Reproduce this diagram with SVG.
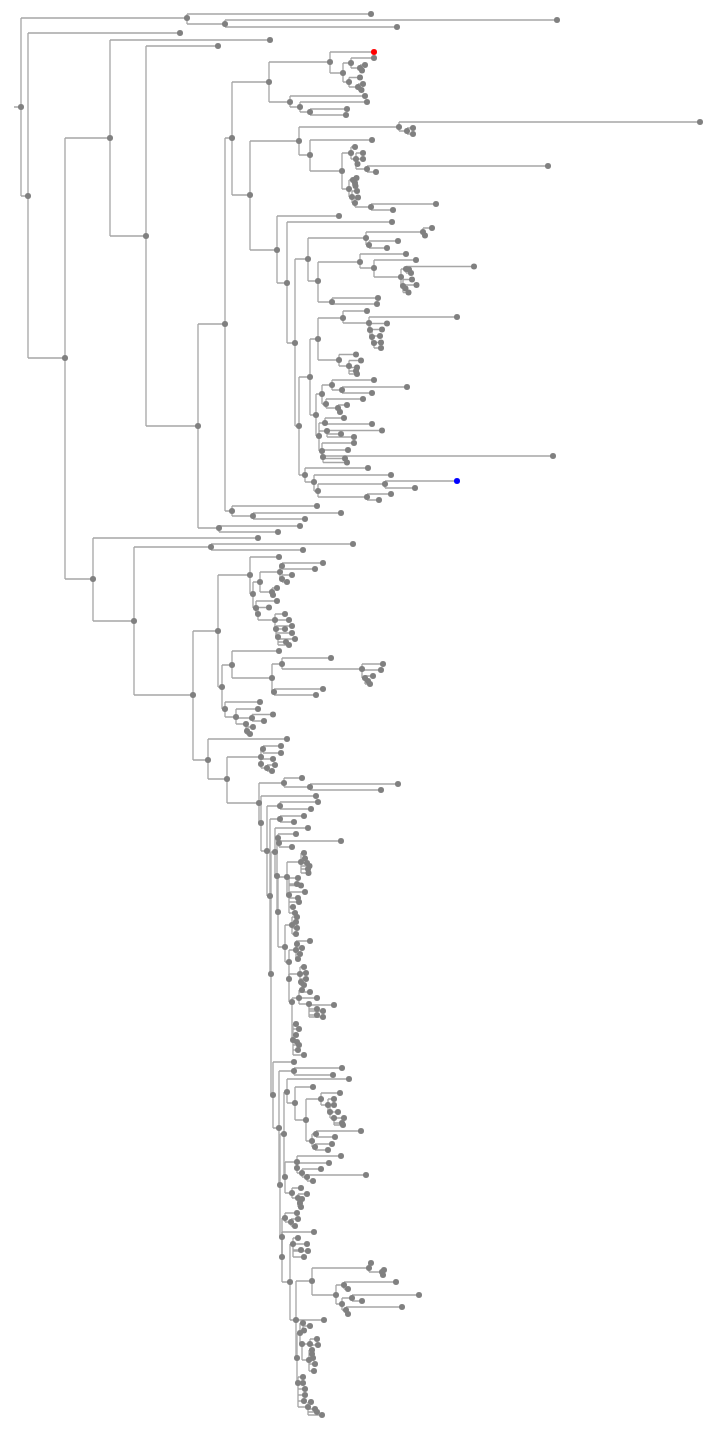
<svg xmlns="http://www.w3.org/2000/svg" width="716" height="1430" viewBox="0 0 716 1430">
<style>
.e path{fill:none;stroke:#a6a6a6;stroke-width:1.3}
circle{r:3px;fill:#808080}
.red circle{fill:#ff0000}
.blue circle{fill:#0000ff}
</style>
<rect width="716" height="1430" fill="#ffffff"/>
<g id="connectors" class="e">
<path d="M14 107H21M21 18V196M21 18H187M21 196H28"/>
<path d="M187 14V24M187 14H371M187 24H225"/>
<path d="M225 20V27M225 20H557M225 27H397"/>
<path d="M28 33V358M28 33H180M28 358H65"/>
<path d="M65 138V579M65 138H110M65 579H93"/>
<path d="M110 40V236M110 40H270M110 236H146"/>
<path d="M146 46V426M146 46H218M146 426H198"/>
<path d="M198 324V528M198 324H225M198 528H219"/>
<path d="M225 138V511M225 138H232M225 511H232"/>
<path d="M232 506V516M232 506H317M232 516H253"/>
<path d="M253 513V519M253 513H341M253 519H305"/>
<path d="M219 526V532M219 526H300M219 532H278"/>
<path d="M93 538V621M93 538H258M93 621H134"/>
<path d="M134 547V695M134 547H211M134 695H193"/>
<path d="M211 544V550M211 544H353M211 550H303"/>
<path d="M232 82V195M232 82H269M232 195H250"/>
<path d="M269 62V102M269 62H330M269 102H290"/>
<path d="M330 52V73M330 52H374M330 73H343"/>
<path d="M343 63V82M343 63H351M343 82H349"/>
<path d="M351 58V68M351 58H374M351 68H360"/>
<path d="M360 65V70.5M360 65H365M360 70.5H362"/>
<path d="M349 77.5V87M349 77.5H360M349 87H358"/>
<path d="M358 84V90M358 84H363M358 90H361.5"/>
<path d="M290 96V107M290 96H365M290 107H300"/>
<path d="M300 102V112M300 102H367M300 112H310"/>
<path d="M310 109V115M310 109H347M310 115H346"/>
<path d="M250 141V250M250 141H299M250 250H277"/>
<path d="M299 127V155M299 127H399M299 155H310"/>
<path d="M399 122V131M399 122H700M399 131H407"/>
<path d="M407 128V134M407 128H413M407 134H413"/>
<path d="M310 140V171M310 140H372M310 171H342"/>
<path d="M342 153V189M342 153H351M342 189H349"/>
<path d="M351 147V159M351 147H355M351 159H356"/>
<path d="M356 153V169M356 153H363M356 159H363M356 164H357.5M356 169H367"/>
<path d="M367 166V172M367 166H548M367 172H376"/>
<path d="M349 180V197M349 180H353M349 197H352"/>
<path d="M353 178V186M353 178H356.5M353 183H355M353 186H355.5"/>
<path d="M352 191V203M352 191H357M352 203H355"/>
<path d="M355 197.5V207M355 197.5H358M355 207H371"/>
<path d="M371 204V210M371 204H436M371 210H393"/>
<path d="M277 216V283M277 216H339M277 283H287"/>
<path d="M287 222V343M287 222H392M287 343H295"/>
<path d="M295 259V426M295 259H308M295 426H299"/>
<path d="M308 238V281M308 238H366M308 281H318"/>
<path d="M366 232V245M366 232H423M366 245H369"/>
<path d="M423 228V235.5M423 228H432M423 235.5H425"/>
<path d="M369 241V248M369 241H398M369 248H387"/>
<path d="M318 262V302M318 262H360M318 302H332"/>
<path d="M360 254V268M360 254H406M360 268H374"/>
<path d="M374 260V277M374 260H416M374 277H401"/>
<path d="M401 269V286M401 269H406M401 286H403"/>
<path d="M406 266.5V273M406 266.5H474M406 269.5H409M406 273H411"/>
<path d="M403 279.5V292.5M403 279.5H412M403 285H416.5M403 288.5H405.5M403 292.5H408.5"/>
<path d="M332 298V304M332 298H378M332 304H377"/>
<path d="M299 377V475M299 377H310M299 475H305"/>
<path d="M310 339V415M310 339H318M310 415H316"/>
<path d="M318 318V360M318 318H343M318 360H339"/>
<path d="M343 311V323M343 311H367M343 323H369"/>
<path d="M369 317V330M369 317H457M369 330H370"/>
<path d="M370 323.5V337M370 323.5H387M370 337H372"/>
<path d="M372 329.5V343M372 329.5H382M372 336H380M372 343H374"/>
<path d="M374 342.5V348M374 342.5H381M374 348H381"/>
<path d="M339 354.5V366M339 354.5H356M339 366H349"/>
<path d="M349 360.5V374M349 360.5H361M349 367.5H357M349 371H356M349 374H357"/>
<path d="M316 394V436M316 394H322M316 436H319"/>
<path d="M322 385V404M322 385H332M322 404H326"/>
<path d="M332 380V390M332 380H374M332 390H342"/>
<path d="M342 387V393M342 387H407M342 393H372"/>
<path d="M326 399V408M326 399H363M326 408H338"/>
<path d="M338 405V412M338 405H347M338 412H340"/>
<path d="M319 423V451M319 423H325M319 431H327M319 451H322"/>
<path d="M325 418V424M325 418H344M325 424H372"/>
<path d="M327 430.5V437M327 430.5H382M327 434H341M327 437H354"/>
<path d="M322 443V457M322 443H354M322 450H348M322 457H323"/>
<path d="M323 456V462.5M323 456H553M323 458.5H345M323 462.5H347"/>
<path d="M305 468V482M305 468H368M305 482H314"/>
<path d="M314 475V491M314 475H391M314 491H318"/>
<path d="M318 484V497M318 484H385M318 497H367"/>
<path d="M385 481V488M385 481H457M385 488H415"/>
<path d="M367 494V500M367 494H391M367 500H379"/>
<path d="M193 631V760M193 631H218M193 760H208"/>
<path d="M218 575V687M218 575H250M218 687H222"/>
<path d="M250 557V594M250 557H279M250 594H253"/>
<path d="M253 582V608M253 582H260M253 608H256"/>
<path d="M260 572V592M260 572H280M260 592H272"/>
<path d="M280 566V579M280 566H282M280 579H282"/>
<path d="M282 563V569M282 563H323M282 569H315"/>
<path d="M282 575V582M282 575H292M282 582H287"/>
<path d="M272 588V595M272 588H277M272 595H273"/>
<path d="M256 601V614M256 601H277M256 614H258"/>
<path d="M258 607.5V620M258 607.5H269M258 620H275"/>
<path d="M275 614V629M275 614H285M275 620H289M275 629H276"/>
<path d="M276 626V637M276 626H292M276 629H285M276 633H292M276 637H278"/>
<path d="M278 637V645M278 639H295M278 642H286M278 645H289"/>
<path d="M222 665V709M222 665H232M222 709H225"/>
<path d="M232 651V678M232 651H279M232 678H272"/>
<path d="M272 664V692M272 664H282M272 692H274"/>
<path d="M282 658V669M282 658H331M282 669H362"/>
<path d="M362 664V678M362 664H383M362 670H381M362 678H365"/>
<path d="M365 676V684M365 676H373M365 681H368M365 684H370"/>
<path d="M274 689V695M274 689H323M274 695H316"/>
<path d="M225 702V717M225 702H260M225 717H236"/>
<path d="M236 709V724M236 709H258M236 718H252M236 724H246"/>
<path d="M252 714.5V721M252 714.5H273M252 721H264"/>
<path d="M246 724V734M246 727H253M246 731H247M246 734H250"/>
<path d="M208 739V779M208 739H287M208 779H227"/>
<path d="M227 757V803M227 757H261M227 803H259"/>
<path d="M261 749V768M261 749H263M261 759H273M261 768H267"/>
<path d="M263 746V753M263 746H281M263 753H281"/>
<path d="M267 765V771M267 765H275M267 771H272"/>
<path d="M259 783V823M259 783H284M259 823H261"/>
<path d="M284 778V787M284 778H302M284 787H310"/>
<path d="M310 784V790M310 784H398M310 790H381"/>
<path d="M261 796V851M261 796H316M261 851H267"/>
<path d="M267 806V896M267 806H280M267 896H270"/>
<path d="M280 802V809M280 802H318M280 809H311"/>
<path d="M270 819V974M270 819H280M270 974H271"/>
<path d="M280 816V822M280 816H304M280 822H294"/>
<path d="M271 852V1095M271 852H275M271 1095H273"/>
<path d="M275 828V876M275 828H308M275 876H277"/>
<path d="M277 838V912M277 838H278M277 912H278"/>
<path d="M278 834V843M278 834H296M278 843H279"/>
<path d="M279 841V847M279 841H341M279 847H292"/>
<path d="M278 877V947M278 877H287M278 947H285"/>
<path d="M287 862V895M287 862H301M287 895H289"/>
<path d="M301 853V873M301 853H304M301 858.5H305M301 863H307M301 866H309.5M301 869H308M301 873H308.5"/>
<path d="M289 878V913M289 878H298M289 884H297M289 885.5H301M289 892H305M289 898H298M289 902H299M289 907H293M289 913H295"/>
<path d="M285 925V962M285 925H292M285 962H289"/>
<path d="M292 917V934M292 917H297M292 922H296M292 928H297M292 934H296"/>
<path d="M289 950V979M289 950H296"/>
<path d="M296 941V959M296 941H310M296 944H297M296 948H302M296 954H300M296 959H298"/>
<path d="M289 974V1002M289 974H300M289 1002H292"/>
<path d="M300 967V985M300 967H304M300 973H306M300 979H306M300 982H301M300 985H304"/>
<path d="M292 998V1040M292 998H299M292 1040H293"/>
<path d="M299 990V1004M299 990H302M299 992H310M299 998H317M299 1004H309"/>
<path d="M309 1004V1017M309 1005H334M309 1009H317M309 1011H323M309 1015H317M309 1017H323"/>
<path d="M293 1024V1055M293 1024H296M293 1029H299M293 1035H296M293 1042H297M293 1045H299M293 1050H298M293 1055H304"/>
<path d="M273 1062V1128M273 1062H294M273 1128H279"/>
<path d="M279 1071V1185M279 1071H294M279 1185H280"/>
<path d="M294 1068V1075M294 1068H342M294 1075H333"/>
<path d="M280 1134V1237M280 1134H284M280 1237H282"/>
<path d="M284 1092V1177M284 1092H287M284 1177H285"/>
<path d="M287 1079V1103M287 1079H349M287 1103H295"/>
<path d="M295 1087V1120M295 1087H313M295 1120H306"/>
<path d="M306 1099V1141M306 1099H321M306 1141H312"/>
<path d="M321 1093V1105M321 1093H340M321 1105H328"/>
<path d="M328 1099V1112M328 1099H334M328 1112H330"/>
<path d="M330 1105V1118M330 1105H334M330 1112H338M330 1118H334"/>
<path d="M334 1118V1125M334 1118H344M334 1123H342M334 1125H343"/>
<path d="M312 1134V1147M312 1134H316M312 1147H315"/>
<path d="M316 1131V1137M316 1131H361M316 1137H335"/>
<path d="M315 1144V1150M315 1144H332M315 1150H328"/>
<path d="M285 1162V1193M285 1162H297M285 1193H292"/>
<path d="M297 1156V1168M297 1156H341"/>
<path d="M297 1163V1173M297 1163H329M297 1173H302"/>
<path d="M302 1169V1177M302 1169H321M302 1177H307"/>
<path d="M307 1175V1181M307 1175H366M307 1181H313"/>
<path d="M292 1188V1198M292 1188H301M292 1198H298"/>
<path d="M298 1194V1207M298 1194H307M298 1199H302M298 1203H300M298 1207H301"/>
<path d="M282 1218V1257M282 1218H285"/>
<path d="M285 1213V1222M285 1213H297M285 1222H291"/>
<path d="M291 1219V1226M291 1219H298M291 1226H295"/>
<path d="M282 1232V1282M282 1232H314M282 1282H290"/>
<path d="M290 1244V1320M290 1244H293M290 1320H296"/>
<path d="M293 1238V1257M293 1238H298M293 1244H307M293 1250H301M293 1251H308M293 1257H304"/>
<path d="M296 1281V1358M296 1281H312M296 1320H324M296 1358H297"/>
<path d="M312 1268V1295M312 1268H369M312 1295H336"/>
<path d="M369 1263V1272M369 1263H371M369 1272H382"/>
<path d="M382 1270V1275M382 1270H384M382 1275H383"/>
<path d="M336 1285V1304M336 1285H344M336 1304H342"/>
<path d="M344 1282V1289M344 1282H396M344 1289H348"/>
<path d="M342 1298V1310M342 1298H352M342 1310H346"/>
<path d="M352 1295V1301M352 1295H419M352 1301H362"/>
<path d="M346 1307V1314M346 1307H402M346 1314H348"/>
<path d="M297 1333V1383M297 1333H300M297 1383H298"/>
<path d="M300 1323V1344M300 1323H303M300 1344H302"/>
<path d="M303 1323V1330.5M303 1326H310M303 1330.5H304"/>
<path d="M302 1344V1360M302 1344H310M302 1360H309"/>
<path d="M310 1339V1345M310 1339H317M310 1345H318"/>
<path d="M309 1350V1371M309 1350H312M309 1354H312M309 1358H313M309 1364H315M309 1371H314"/>
<path d="M298 1377V1407M298 1377H303M298 1383H303M298 1389H305M298 1395H305M298 1401H304M298 1407H308"/>
<path d="M308 1402V1415M308 1402H311M308 1409H315M308 1412H317M308 1415H322"/>
</g>
<g id="nodes">
<g id="n1"><circle cx="21" cy="107"/></g><g id="n2"><circle cx="187" cy="18"/></g><g id="n3"><circle cx="225" cy="24"/></g><g id="n4"><circle cx="28" cy="196"/></g><g id="n5"><circle cx="65" cy="358"/></g><g id="n6"><circle cx="110" cy="138"/></g><g id="n7"><circle cx="146" cy="236"/></g><g id="n8"><circle cx="198" cy="426"/></g><g id="n9"><circle cx="225" cy="324"/></g><g id="n10"><circle cx="232" cy="511"/></g><g id="n11"><circle cx="253" cy="516"/></g><g id="n12"><circle cx="219" cy="528"/></g><g id="n13"><circle cx="93" cy="579"/></g><g id="n14"><circle cx="134" cy="621"/></g><g id="n15"><circle cx="211" cy="547"/></g>
<g id="n16"><circle cx="232" cy="138"/></g><g id="n17"><circle cx="269" cy="82"/></g><g id="n18"><circle cx="330" cy="62"/></g><g id="n19"><circle cx="343" cy="73"/></g><g id="n20"><circle cx="351" cy="63"/></g><g id="n21"><circle cx="360" cy="68"/></g><g id="n22"><circle cx="349" cy="82"/></g><g id="n23"><circle cx="358" cy="87"/></g><g id="n24"><circle cx="290" cy="102"/></g><g id="n25"><circle cx="300" cy="107"/></g><g id="n26"><circle cx="310" cy="112"/></g><g id="n27"><circle cx="250" cy="195"/></g><g id="n28"><circle cx="299" cy="141"/></g><g id="n29"><circle cx="399" cy="127"/></g><g id="n30"><circle cx="407" cy="131"/></g><g id="n31"><circle cx="310" cy="155"/></g><g id="n32"><circle cx="342" cy="171"/></g><g id="n33"><circle cx="351" cy="153"/></g><g id="n34"><circle cx="356" cy="159"/></g><g id="n35"><circle cx="367" cy="169"/></g><g id="n36"><circle cx="349" cy="189"/></g><g id="n37"><circle cx="353" cy="180"/></g><g id="n38"><circle cx="352" cy="197"/></g><g id="n39"><circle cx="355" cy="203"/></g><g id="n40"><circle cx="371" cy="207"/></g><g id="n41"><circle cx="277" cy="250"/></g><g id="n42"><circle cx="287" cy="283"/></g><g id="n43"><circle cx="295" cy="343"/></g><g id="n44"><circle cx="308" cy="259"/></g><g id="n45"><circle cx="366" cy="238"/></g><g id="n46"><circle cx="423" cy="232"/></g><g id="n47"><circle cx="369" cy="245"/></g><g id="n48"><circle cx="318" cy="281"/></g><g id="n49"><circle cx="360" cy="262"/></g><g id="n50"><circle cx="374" cy="268"/></g><g id="n51"><circle cx="401" cy="277"/></g><g id="n52"><circle cx="406" cy="269"/></g><g id="n53"><circle cx="403" cy="286"/></g><g id="n54"><circle cx="332" cy="302"/></g><g id="n55"><circle cx="299" cy="426"/></g><g id="n56"><circle cx="310" cy="377"/></g><g id="n57"><circle cx="318" cy="339"/></g><g id="n58"><circle cx="343" cy="318"/></g><g id="n59"><circle cx="369" cy="323"/></g><g id="n60"><circle cx="370" cy="330"/></g><g id="n61"><circle cx="372" cy="337"/></g><g id="n62"><circle cx="374" cy="343"/></g><g id="n63"><circle cx="339" cy="360"/></g><g id="n64"><circle cx="349" cy="366"/></g><g id="n65"><circle cx="316" cy="415"/></g><g id="n66"><circle cx="322" cy="394"/></g><g id="n67"><circle cx="332" cy="385"/></g><g id="n68"><circle cx="342" cy="390"/></g><g id="n69"><circle cx="326" cy="404"/></g><g id="n70"><circle cx="338" cy="408"/></g><g id="n71"><circle cx="319" cy="436"/></g><g id="n72"><circle cx="325" cy="423"/></g><g id="n73"><circle cx="327" cy="431"/></g><g id="n74"><circle cx="322" cy="451"/></g><g id="n75"><circle cx="323" cy="457"/></g><g id="n76"><circle cx="305" cy="475"/></g><g id="n77"><circle cx="314" cy="482"/></g><g id="n78"><circle cx="318" cy="491"/></g><g id="n79"><circle cx="385" cy="484"/></g><g id="n80"><circle cx="367" cy="497"/></g>
<g id="n81"><circle cx="193" cy="695"/></g><g id="n82"><circle cx="218" cy="631"/></g><g id="n83"><circle cx="250" cy="575"/></g><g id="n84"><circle cx="253" cy="594"/></g><g id="n85"><circle cx="260" cy="582"/></g><g id="n86"><circle cx="280" cy="572"/></g><g id="n87"><circle cx="282" cy="566"/></g><g id="n88"><circle cx="282" cy="579"/></g><g id="n89"><circle cx="272" cy="592"/></g><g id="n90"><circle cx="256" cy="608"/></g><g id="n91"><circle cx="258" cy="614"/></g><g id="n92"><circle cx="275" cy="620"/></g><g id="n93"><circle cx="276" cy="629"/></g><g id="n94"><circle cx="278" cy="637"/></g><g id="n95"><circle cx="222" cy="687"/></g><g id="n96"><circle cx="232" cy="665"/></g><g id="n97"><circle cx="272" cy="678"/></g><g id="n98"><circle cx="282" cy="664"/></g><g id="n99"><circle cx="362" cy="669"/></g><g id="n100"><circle cx="365" cy="678"/></g><g id="n101"><circle cx="274" cy="692"/></g><g id="n102"><circle cx="225" cy="709"/></g><g id="n103"><circle cx="236" cy="717"/></g><g id="n104"><circle cx="252" cy="718"/></g><g id="n105"><circle cx="246" cy="724"/></g><g id="n106"><circle cx="208" cy="760"/></g><g id="n107"><circle cx="227" cy="779"/></g><g id="n108"><circle cx="261" cy="757"/></g><g id="n109"><circle cx="263" cy="749"/></g><g id="n110"><circle cx="261" cy="764"/></g><g id="n111"><circle cx="267" cy="768"/></g>
<g id="n112"><circle cx="259" cy="803"/></g><g id="n113"><circle cx="284" cy="783"/></g><g id="n114"><circle cx="310" cy="787"/></g><g id="n115"><circle cx="261" cy="823"/></g><g id="n116"><circle cx="267" cy="851"/></g><g id="n117"><circle cx="280" cy="806"/></g><g id="n118"><circle cx="270" cy="896"/></g><g id="n119"><circle cx="280" cy="819"/></g><g id="n120"><circle cx="271" cy="974"/></g><g id="n121"><circle cx="275" cy="852"/></g><g id="n122"><circle cx="277" cy="876"/></g><g id="n123"><circle cx="278" cy="838"/></g><g id="n124"><circle cx="279" cy="843"/></g><g id="n125"><circle cx="278" cy="912"/></g><g id="n126"><circle cx="287" cy="877"/></g><g id="n127"><circle cx="301" cy="862"/></g><g id="n128"><circle cx="289" cy="895"/></g><g id="n129"><circle cx="285" cy="947"/></g><g id="n130"><circle cx="292" cy="925"/></g><g id="n131"><circle cx="289" cy="962"/></g><g id="n132"><circle cx="296" cy="950"/></g><g id="n133"><circle cx="289" cy="979"/></g><g id="n134"><circle cx="300" cy="974"/></g><g id="n135"><circle cx="292" cy="1002"/></g><g id="n136"><circle cx="299" cy="998"/></g><g id="n137"><circle cx="309" cy="1004"/></g><g id="n138"><circle cx="293" cy="1040"/></g><g id="n139"><circle cx="273" cy="1095"/></g><g id="n140"><circle cx="279" cy="1128"/></g><g id="n141"><circle cx="294" cy="1071"/></g><g id="n142"><circle cx="280" cy="1185"/></g><g id="n143"><circle cx="284" cy="1134"/></g><g id="n144"><circle cx="287" cy="1092"/></g><g id="n145"><circle cx="295" cy="1103"/></g><g id="n146"><circle cx="306" cy="1120"/></g><g id="n147"><circle cx="321" cy="1099"/></g><g id="n148"><circle cx="328" cy="1105"/></g><g id="n149"><circle cx="330" cy="1112"/></g><g id="n150"><circle cx="334" cy="1118"/></g><g id="n151"><circle cx="312" cy="1141"/></g><g id="n152"><circle cx="316" cy="1134"/></g><g id="n153"><circle cx="315" cy="1147"/></g><g id="n154"><circle cx="285" cy="1177"/></g><g id="n155"><circle cx="297" cy="1162"/></g><g id="n156"><circle cx="297" cy="1168"/></g><g id="n157"><circle cx="302" cy="1173"/></g><g id="n158"><circle cx="307" cy="1177"/></g><g id="n159"><circle cx="292" cy="1193"/></g><g id="n160"><circle cx="298" cy="1198"/></g><g id="n161"><circle cx="282" cy="1237"/></g><g id="n162"><circle cx="285" cy="1218"/></g><g id="n163"><circle cx="291" cy="1222"/></g><g id="n164"><circle cx="282" cy="1257"/></g><g id="n165"><circle cx="290" cy="1282"/></g><g id="n166"><circle cx="293" cy="1244"/></g><g id="n167"><circle cx="296" cy="1320"/></g><g id="n168"><circle cx="312" cy="1281"/></g><g id="n169"><circle cx="369" cy="1268"/></g><g id="n170"><circle cx="382" cy="1272"/></g><g id="n171"><circle cx="336" cy="1295"/></g><g id="n172"><circle cx="344" cy="1285"/></g><g id="n173"><circle cx="342" cy="1304"/></g><g id="n174"><circle cx="352" cy="1298"/></g><g id="n175"><circle cx="346" cy="1310"/></g><g id="n176"><circle cx="297" cy="1358"/></g><g id="n177"><circle cx="300" cy="1333"/></g><g id="n178"><circle cx="303" cy="1323"/></g><g id="n179"><circle cx="302" cy="1344"/></g><g id="n180"><circle cx="310" cy="1344"/></g><g id="n181"><circle cx="309" cy="1360"/></g><g id="n182"><circle cx="298" cy="1383"/></g><g id="n183"><circle cx="308" cy="1407"/></g>
</g>
<g id="leaves">
<g id="l1"><circle cx="371" cy="14"/></g><g id="l2"><circle cx="557" cy="20"/></g><g id="l3"><circle cx="397" cy="27"/></g><g id="l4"><circle cx="180" cy="33"/></g><g id="l5"><circle cx="270" cy="40"/></g><g id="l6"><circle cx="218" cy="46"/></g><g id="l7"><circle cx="317" cy="506"/></g><g id="l8"><circle cx="341" cy="513"/></g><g id="l9"><circle cx="305" cy="519"/></g><g id="l10"><circle cx="300" cy="526"/></g><g id="l11"><circle cx="278" cy="532"/></g><g id="l12"><circle cx="258" cy="538"/></g><g id="l13"><circle cx="353" cy="544"/></g><g id="l14"><circle cx="303" cy="550"/></g>
<g id="l15" class="red"><circle cx="374" cy="52"/></g>
<g id="l16"><circle cx="374" cy="58"/></g><g id="l17"><circle cx="365" cy="65"/></g><g id="l18"><circle cx="362" cy="70.5"/></g><g id="l19"><circle cx="360" cy="77.5"/></g><g id="l20"><circle cx="363" cy="84"/></g><g id="l21"><circle cx="361.5" cy="90"/></g><g id="l22"><circle cx="365" cy="96"/></g><g id="l23"><circle cx="367" cy="102"/></g><g id="l24"><circle cx="347" cy="109"/></g><g id="l25"><circle cx="346" cy="115"/></g><g id="l26"><circle cx="700" cy="122"/></g><g id="l27"><circle cx="413" cy="128"/></g><g id="l28"><circle cx="413" cy="134"/></g><g id="l29"><circle cx="372" cy="140"/></g><g id="l30"><circle cx="355" cy="147"/></g><g id="l31"><circle cx="363" cy="153"/></g><g id="l32"><circle cx="363" cy="159"/></g><g id="l33"><circle cx="357.5" cy="164"/></g><g id="l34"><circle cx="548" cy="166"/></g><g id="l35"><circle cx="376" cy="172"/></g><g id="l36"><circle cx="356.5" cy="178"/></g><g id="l37"><circle cx="355" cy="183"/></g><g id="l38"><circle cx="355.5" cy="186"/></g><g id="l39"><circle cx="357" cy="191"/></g><g id="l40"><circle cx="358" cy="197.5"/></g><g id="l41"><circle cx="436" cy="204"/></g><g id="l42"><circle cx="393" cy="210"/></g><g id="l43"><circle cx="339" cy="216"/></g><g id="l44"><circle cx="392" cy="222"/></g><g id="l45"><circle cx="432" cy="228"/></g><g id="l46"><circle cx="425" cy="235.5"/></g><g id="l47"><circle cx="398" cy="241"/></g><g id="l48"><circle cx="387" cy="248"/></g><g id="l49"><circle cx="406" cy="254"/></g><g id="l50"><circle cx="416" cy="260"/></g><g id="l51"><circle cx="474" cy="266.5"/></g><g id="l52"><circle cx="409" cy="269.5"/></g><g id="l53"><circle cx="411" cy="273"/></g><g id="l54"><circle cx="412" cy="279.5"/></g><g id="l55"><circle cx="416.5" cy="285"/></g><g id="l56"><circle cx="405.5" cy="288.5"/></g><g id="l57"><circle cx="408.5" cy="292.5"/></g><g id="l58"><circle cx="378" cy="298"/></g><g id="l59"><circle cx="377" cy="304"/></g><g id="l60"><circle cx="367" cy="311"/></g><g id="l61"><circle cx="457" cy="317"/></g><g id="l62"><circle cx="387" cy="323.5"/></g><g id="l63"><circle cx="382" cy="329.5"/></g><g id="l64"><circle cx="380" cy="336"/></g><g id="l65"><circle cx="381" cy="342.5"/></g><g id="l66"><circle cx="381" cy="348"/></g><g id="l67"><circle cx="356" cy="354.5"/></g><g id="l68"><circle cx="361" cy="360.5"/></g><g id="l69"><circle cx="357" cy="367.5"/></g><g id="l70"><circle cx="356" cy="371"/></g><g id="l71"><circle cx="357" cy="374"/></g><g id="l72"><circle cx="374" cy="380"/></g><g id="l73"><circle cx="407" cy="387"/></g><g id="l74"><circle cx="372" cy="393"/></g><g id="l75"><circle cx="363" cy="399"/></g><g id="l76"><circle cx="347" cy="405"/></g><g id="l77"><circle cx="340" cy="412"/></g><g id="l78"><circle cx="344" cy="418"/></g><g id="l79"><circle cx="372" cy="424"/></g><g id="l80"><circle cx="382" cy="430.5"/></g><g id="l81"><circle cx="341" cy="434"/></g><g id="l82"><circle cx="354" cy="437"/></g><g id="l83"><circle cx="354" cy="443"/></g><g id="l84"><circle cx="348" cy="450"/></g><g id="l85"><circle cx="553" cy="456"/></g><g id="l86"><circle cx="345" cy="458.5"/></g><g id="l87"><circle cx="347" cy="462.5"/></g><g id="l88"><circle cx="368" cy="468"/></g><g id="l89"><circle cx="391" cy="475"/></g>
<g id="l90" class="blue"><circle cx="457" cy="481"/></g>
<g id="l91"><circle cx="415" cy="488"/></g><g id="l92"><circle cx="391" cy="494"/></g><g id="l93"><circle cx="379" cy="500"/></g>
<g id="l94"><circle cx="279" cy="557"/></g><g id="l95"><circle cx="323" cy="563"/></g><g id="l96"><circle cx="315" cy="569"/></g><g id="l97"><circle cx="292" cy="575"/></g><g id="l98"><circle cx="287" cy="582"/></g><g id="l99"><circle cx="277" cy="588"/></g><g id="l100"><circle cx="273" cy="595"/></g><g id="l101"><circle cx="277" cy="601"/></g><g id="l102"><circle cx="269" cy="607.5"/></g><g id="l103"><circle cx="285" cy="614"/></g><g id="l104"><circle cx="289" cy="620"/></g><g id="l105"><circle cx="285" cy="629"/></g><g id="l106"><circle cx="292" cy="626"/></g><g id="l107"><circle cx="292" cy="633"/></g><g id="l108"><circle cx="295" cy="639"/></g><g id="l109"><circle cx="286" cy="642"/></g><g id="l110"><circle cx="289" cy="645"/></g><g id="l111"><circle cx="279" cy="651"/></g><g id="l112"><circle cx="331" cy="658"/></g><g id="l113"><circle cx="383" cy="664"/></g><g id="l114"><circle cx="381" cy="670"/></g><g id="l115"><circle cx="373" cy="676"/></g><g id="l116"><circle cx="368" cy="681"/></g><g id="l117"><circle cx="370" cy="684"/></g><g id="l118"><circle cx="323" cy="689"/></g><g id="l119"><circle cx="316" cy="695"/></g><g id="l120"><circle cx="260" cy="702"/></g><g id="l121"><circle cx="258" cy="709"/></g><g id="l122"><circle cx="273" cy="714.5"/></g><g id="l123"><circle cx="264" cy="721"/></g><g id="l124"><circle cx="253" cy="727"/></g><g id="l125"><circle cx="247" cy="731"/></g><g id="l126"><circle cx="250" cy="734"/></g><g id="l127"><circle cx="287" cy="739"/></g><g id="l128"><circle cx="281" cy="746"/></g><g id="l129"><circle cx="281" cy="753"/></g><g id="l130"><circle cx="273" cy="759"/></g><g id="l131"><circle cx="275" cy="765"/></g><g id="l132"><circle cx="272" cy="771"/></g>
<g id="l133"><circle cx="302" cy="778"/></g><g id="l134"><circle cx="398" cy="784"/></g><g id="l135"><circle cx="381" cy="790"/></g><g id="l136"><circle cx="316" cy="796"/></g><g id="l137"><circle cx="318" cy="802"/></g><g id="l138"><circle cx="311" cy="809"/></g><g id="l139"><circle cx="304" cy="816"/></g><g id="l140"><circle cx="294" cy="822"/></g><g id="l141"><circle cx="308" cy="828"/></g><g id="l142"><circle cx="296" cy="834"/></g><g id="l143"><circle cx="341" cy="841"/></g><g id="l144"><circle cx="292" cy="847"/></g><g id="l145"><circle cx="304" cy="853"/></g><g id="l146"><circle cx="305" cy="858.5"/></g><g id="l147"><circle cx="307" cy="863"/></g><g id="l148"><circle cx="309.5" cy="866"/></g><g id="l149"><circle cx="308" cy="869"/></g><g id="l150"><circle cx="308.5" cy="873"/></g><g id="l151"><circle cx="298" cy="878"/></g><g id="l152"><circle cx="297" cy="884"/></g><g id="l153"><circle cx="301" cy="885.5"/></g><g id="l154"><circle cx="305" cy="892"/></g><g id="l155"><circle cx="298" cy="898"/></g><g id="l156"><circle cx="299" cy="902"/></g><g id="l157"><circle cx="293" cy="907"/></g><g id="l158"><circle cx="295" cy="913"/></g><g id="l159"><circle cx="297" cy="917"/></g><g id="l160"><circle cx="296" cy="922"/></g><g id="l161"><circle cx="297" cy="928"/></g><g id="l162"><circle cx="296" cy="934"/></g><g id="l163"><circle cx="310" cy="941"/></g><g id="l164"><circle cx="297" cy="944"/></g><g id="l165"><circle cx="302" cy="948"/></g><g id="l166"><circle cx="300" cy="954"/></g><g id="l167"><circle cx="298" cy="959"/></g><g id="l168"><circle cx="304" cy="967"/></g><g id="l169"><circle cx="306" cy="973"/></g><g id="l170"><circle cx="306" cy="979"/></g><g id="l171"><circle cx="301" cy="982"/></g><g id="l172"><circle cx="304" cy="985"/></g><g id="l173"><circle cx="302" cy="990"/></g><g id="l174"><circle cx="310" cy="992"/></g><g id="l175"><circle cx="317" cy="998"/></g><g id="l176"><circle cx="334" cy="1005"/></g><g id="l177"><circle cx="317" cy="1009"/></g><g id="l178"><circle cx="323" cy="1011"/></g><g id="l179"><circle cx="317" cy="1015"/></g><g id="l180"><circle cx="323" cy="1017"/></g><g id="l181"><circle cx="296" cy="1024"/></g><g id="l182"><circle cx="299" cy="1029"/></g><g id="l183"><circle cx="296" cy="1035"/></g><g id="l184"><circle cx="297" cy="1042"/></g><g id="l185"><circle cx="299" cy="1045"/></g><g id="l186"><circle cx="298" cy="1050"/></g><g id="l187"><circle cx="304" cy="1055"/></g><g id="l188"><circle cx="294" cy="1062"/></g><g id="l189"><circle cx="342" cy="1068"/></g><g id="l190"><circle cx="333" cy="1075"/></g><g id="l191"><circle cx="349" cy="1079"/></g><g id="l192"><circle cx="313" cy="1087"/></g><g id="l193"><circle cx="340" cy="1093"/></g><g id="l194"><circle cx="334" cy="1099"/></g><g id="l195"><circle cx="334" cy="1105"/></g><g id="l196"><circle cx="338" cy="1112"/></g><g id="l197"><circle cx="344" cy="1118"/></g><g id="l198"><circle cx="342" cy="1123"/></g><g id="l199"><circle cx="343" cy="1125"/></g><g id="l200"><circle cx="361" cy="1131"/></g><g id="l201"><circle cx="335" cy="1137"/></g><g id="l202"><circle cx="332" cy="1144"/></g><g id="l203"><circle cx="328" cy="1150"/></g><g id="l204"><circle cx="341" cy="1156"/></g><g id="l205"><circle cx="329" cy="1163"/></g><g id="l206"><circle cx="321" cy="1169"/></g><g id="l207"><circle cx="366" cy="1175"/></g><g id="l208"><circle cx="313" cy="1181"/></g><g id="l209"><circle cx="301" cy="1188"/></g><g id="l210"><circle cx="307" cy="1194"/></g><g id="l211"><circle cx="302" cy="1199"/></g><g id="l212"><circle cx="300" cy="1203"/></g><g id="l213"><circle cx="301" cy="1207"/></g><g id="l214"><circle cx="297" cy="1213"/></g><g id="l215"><circle cx="298" cy="1219"/></g><g id="l216"><circle cx="295" cy="1226"/></g><g id="l217"><circle cx="314" cy="1232"/></g><g id="l218"><circle cx="298" cy="1238"/></g><g id="l219"><circle cx="307" cy="1244"/></g><g id="l220"><circle cx="301" cy="1250"/></g><g id="l221"><circle cx="308" cy="1251"/></g><g id="l222"><circle cx="304" cy="1257"/></g><g id="l223"><circle cx="371" cy="1263"/></g><g id="l224"><circle cx="384" cy="1270"/></g><g id="l225"><circle cx="383" cy="1275"/></g><g id="l226"><circle cx="396" cy="1282"/></g><g id="l227"><circle cx="348" cy="1289"/></g><g id="l228"><circle cx="419" cy="1295"/></g><g id="l229"><circle cx="362" cy="1301"/></g><g id="l230"><circle cx="402" cy="1307"/></g><g id="l231"><circle cx="348" cy="1314"/></g><g id="l232"><circle cx="324" cy="1320"/></g><g id="l233"><circle cx="310" cy="1326"/></g><g id="l234"><circle cx="304" cy="1330.5"/></g><g id="l235"><circle cx="317" cy="1339"/></g><g id="l236"><circle cx="318" cy="1345"/></g><g id="l237"><circle cx="312" cy="1350"/></g><g id="l238"><circle cx="312" cy="1354"/></g><g id="l239"><circle cx="313" cy="1358"/></g><g id="l240"><circle cx="315" cy="1364"/></g><g id="l241"><circle cx="314" cy="1371"/></g><g id="l242"><circle cx="303" cy="1377"/></g><g id="l243"><circle cx="303" cy="1383"/></g><g id="l244"><circle cx="305" cy="1389"/></g><g id="l245"><circle cx="305" cy="1395"/></g><g id="l246"><circle cx="304" cy="1401"/></g><g id="l247"><circle cx="311" cy="1402"/></g><g id="l248"><circle cx="315" cy="1409"/></g><g id="l249"><circle cx="317" cy="1412"/></g><g id="l250"><circle cx="322" cy="1415"/></g>
</g>
</svg>
